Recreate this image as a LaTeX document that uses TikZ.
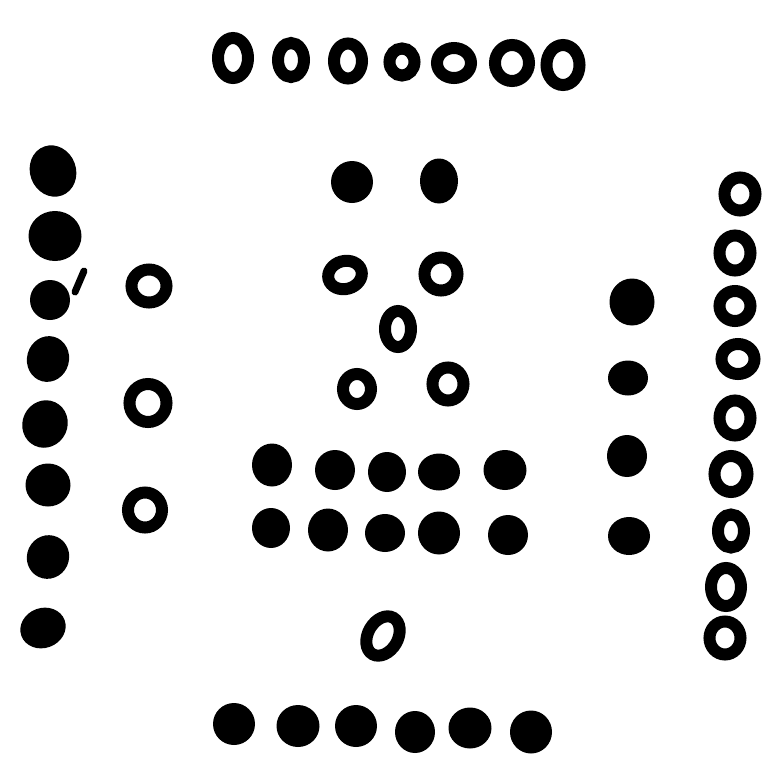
\documentclass[tikz,border=0pt]{standalone}
\usetikzlibrary{shapes.geometric}
\newcommand{\pxu}{0.02cm}
\tikzset{
  ring/.style = {ellipse,draw,line width=12*\pxu,inner sep=0pt},
  blob/.style = {ellipse,fill,inner sep=0pt}
}
\newcommand{\ringpt}[6][]{%
  \node[ring,minimum width={(#4-12)*\pxu},minimum height={(#5-12)*\pxu},#1] (#6) at (#2,#3) {};
}
\newcommand{\blobpt}[6][]{%
  \node[blob,minimum width={#4*\pxu},minimum height={#5*\pxu},#1] (#6) at (#2,#3) {};
}
\begin{document}
\begin{tikzpicture}[x=\pxu,y=-\pxu]
  \useasboundingbox (0,0) rectangle (769,762);
  % top row of rings
  \ringpt{233}{58}{42}{52}{top1}
  \ringpt{291}{60}{38}{46}{top2}
  \ringpt{348}{61}{40}{47}{top3}
  \ringpt{402}{62}{37}{39}{top4}
  \ringpt{454}{63}{46}{42}{top5}
  \ringpt{512}{63}{46}{48}{top6}
  \ringpt{563}{65}{45}{52}{top7}
  % left column of dots
  \blobpt[rotate=20]{53}{171}{46}{52}{lft1}
  \blobpt{55}{236}{53}{50}{lft2}
  \blobpt{50}{300}{40}{40}{lft3}
  \draw[line width=7*\pxu,line cap=round] (75,292) -- (84,271);
  \blobpt[rotate=-15]{48}{359}{42}{46}{lft4}
  \blobpt[rotate=-25]{45}{424}{45}{48}{lft5}
  \blobpt{48}{485}{45}{43}{lft6}
  \blobpt[rotate=-25]{48}{557}{42}{44}{lft7}
  \blobpt[rotate=20]{43}{628}{46}{40}{lft8}
  % left rings
  \ringpt{149}{286}{47}{45}{lring1}
  \ringpt{148}{403}{49}{50}{lring2}
  \ringpt{145}{510}{46}{47}{lring3}
  % centre
  \blobpt{352}{182}{42}{42}{ctop1}
  \blobpt{439}{181}{38}{45}{ctop2}
  \ringpt[rotate=15]{345}{275}{46}{40}{cring1}
  \ringpt{441}{274}{45}{45}{cring2}
  \ringpt{398}{329}{38}{48}{cring3}
  \ringpt{357}{389}{40}{42}{cring4}
  \ringpt{448}{384}{43}{45}{cring5}
  \blobpt{272}{465}{40}{43}{row1a}
  \blobpt{335}{470}{40}{40}{row1b}
  \blobpt{387}{472}{38}{40}{row1c}
  \blobpt{439}{472}{42}{37}{row1d}
  \blobpt{505}{470}{43}{40}{row1e}
  \blobpt{271}{528}{38}{40}{row2a}
  \blobpt{328}{530}{40}{43}{row2b}
  \blobpt{385}{533}{40}{38}{row2c}
  \blobpt{439}{533}{42}{43}{row2d}
  \blobpt{508}{535}{40}{40}{row2e}
  \ringpt[rotate=-30]{383}{636}{42}{54}{cring6}
  % bottom row of dots
  \blobpt{234}{724}{42}{42}{bot1}
  \blobpt{298}{726}{43}{42}{bot2}
  \blobpt{356}{726}{42}{42}{bot3}
  \blobpt{415}{732}{40}{42}{bot4}
  \blobpt{470}{728}{43}{41}{bot5}
  \blobpt{531}{732}{42}{43}{bot6}
  % right dots
  \blobpt{632}{302}{45}{47}{rgt1}
  \blobpt{628}{378}{40}{35}{rgt2}
  \blobpt{627}{456}{40}{42}{rgt3}
  \blobpt{629}{536}{42}{38}{rgt4}
  % right column of rings
  \ringpt{740}{194}{43}{45}{rring1}
  \ringpt{735}{253}{43}{47}{rring2}
  \ringpt{735}{306}{43}{42}{rring3}
  \ringpt{738}{359}{45}{42}{rring4}
  \ringpt{735}{418}{43}{47}{rring5}
  \ringpt{731}{474}{45}{48}{rring6}
  \ringpt{731}{531}{38}{45}{rring7}
  \ringpt{726}{587}{42}{50}{rring8}
  \ringpt{725}{638}{43}{45}{rring9}
\end{tikzpicture}
\end{document}
